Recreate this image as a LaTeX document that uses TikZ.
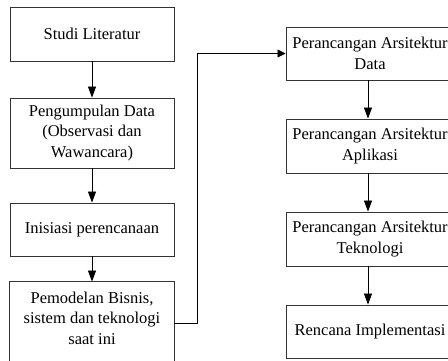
\documentclass[tikz,border=0pt]{standalone}
\usepackage{fontspec}
\setmainfont{Liberation Serif}
\usetikzlibrary{arrows.meta}
\begin{document}
\begin{tikzpicture}[x=1pt,y=-1pt,
  stepbox/.style={draw=black!80, line width=0.9pt, rectangle, minimum width=164pt,
    inner sep=0pt, align=center, font=\fontsize{16.5}{20.5}\selectfont},
  flow/.style={draw=black, line width=0.8pt, -{Triangle[length=11pt,width=8pt]}},
  flowh/.style={draw=black, line width=0.8pt, -{Triangle[length=8pt,width=8pt]}}]
\clip (0,0) rectangle (448,361);
% left column
\node[stepbox, minimum height=54pt] (b1) at (92,34) {Studi Literatur};
\node[stepbox, minimum height=70pt] (b2) at (92,133) {Pengumpulan Data\\(Observasi dan\\Wawancara)};
\node[stepbox, minimum height=53pt] (b3) at (92,229.5) {Inisiasi perencanaan};
\node[stepbox, draw=none, minimum height=72pt] (b4) at (92,318) {Pemodelan Bisnis,\\sistem dan teknologi\\saat ini};
\draw[draw=black!80, line width=0.9pt] ([yshift=-30pt]b4.south west) -- (b4.north west)
  -- (b4.north east) -- ([yshift=-30pt]b4.south east);
% right column
\node[stepbox, minimum width=168pt, minimum height=53pt] (r1) at (370,53.5) {Perancangan Arsitektur\\Data};
\node[stepbox, minimum width=168pt, minimum height=54pt] (r2) at (370,146) {Perancangan Arsitektur\\Aplikasi};
\node[stepbox, minimum width=168pt, minimum height=54pt] (r3) at (370,239) {Perancangan Arsitektur\\Teknologi};
\node[stepbox, minimum width=168pt, minimum height=53pt] (r4) at (370,331.5) {Rencana Implementasi};
% connectors
\draw[flow] (b1) -- (b2);
\draw[flow] (b2) -- (b3);
\draw[flow] (b3) -- (b4.north);
\coordinate (out) at ([yshift=-5pt]b4.east);
\coordinate (bend) at (197,323);
\draw[flowh] (out) -- (bend) |- (r1.west);
\draw[flow] ([xshift=-2pt]r1.south) -- ([xshift=-2pt]r2.north);
\draw[flow] ([xshift=-2pt]r2.south) -- ([xshift=-2pt]r3.north);
\draw[flow] ([xshift=-2pt]r3.south) -- ([xshift=-2pt]r4.north);
\end{tikzpicture}
\end{document}
